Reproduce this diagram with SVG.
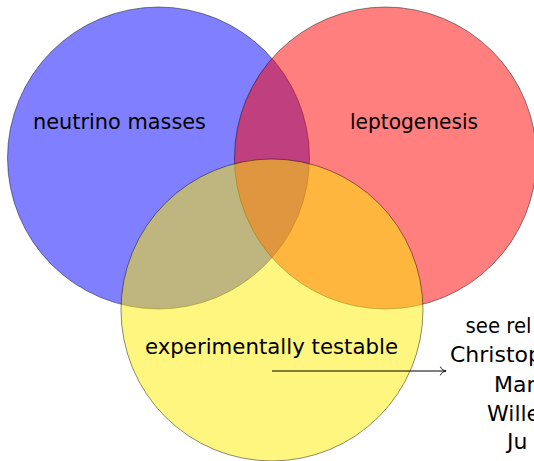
<svg xmlns="http://www.w3.org/2000/svg" width="534" height="461" viewBox="0 0 534 461">
  <style>
    .set { stroke: #000000; stroke-opacity: 0.5; stroke-width: 0.9; fill-opacity: 0.5; }
    .lbl { font-family: "DejaVu Sans", "Liberation Sans", sans-serif; font-size: 21px; fill: #000000; }
    .note { font-family: "DejaVu Sans", "Liberation Sans", sans-serif; font-size: 22px; fill: #000000; }
    .conn { stroke: #000000; stroke-width: 1; fill: none; }
  </style>
  <defs>
    <marker id="to" markerUnits="userSpaceOnUse" viewBox="-8 -6 10 12" refX="0" refY="0" markerWidth="10" markerHeight="12" orient="auto">
      <path d="M -5.5,-4 C -4.8,-1.6 -2,-0.4 0,0 C -2,0.4 -4.8,1.6 -5.5,4" fill="none" stroke="#000000" stroke-width="0.9" stroke-linecap="round"/>
    </marker>
  </defs>
  <rect x="0" y="0" width="534" height="461" fill="#ffffff"/>
  <g id="neutrino-masses">
    <circle class="set" cx="158.5" cy="158" r="151" fill="#0000ff"/>
    <text class="lbl" x="33" y="129" textLength="173" lengthAdjust="spacingAndGlyphs">neutrino masses</text>
  </g>
  <g id="leptogenesis">
    <circle class="set" cx="385.5" cy="158" r="151" fill="#ff0000"/>
    <text class="lbl" x="350" y="128.5" textLength="128" lengthAdjust="spacingAndGlyphs">leptogenesis</text>
  </g>
  <g id="experimentally-testable">
    <circle class="set" cx="272" cy="310" r="151" fill="#ffee00"/>
    <text class="lbl" x="145" y="354" textLength="253" lengthAdjust="spacingAndGlyphs">experimentally testable</text>
  </g>
  <g id="note">
    <text class="note" x="465.5" y="333" textLength="66" lengthAdjust="spacingAndGlyphs">see rel</text>
    <text class="note" x="450" y="362">Christop</text>
    <text class="note" x="494" y="392">Mar</text>
    <text class="note" x="487" y="421">Wille</text>
    <text class="note" x="507" y="449">Ju</text>
  </g>
  <g id="connectors">
    <line class="conn" x1="272" y1="371" x2="446" y2="371" marker-end="url(#to)"/>
  </g>
</svg>
